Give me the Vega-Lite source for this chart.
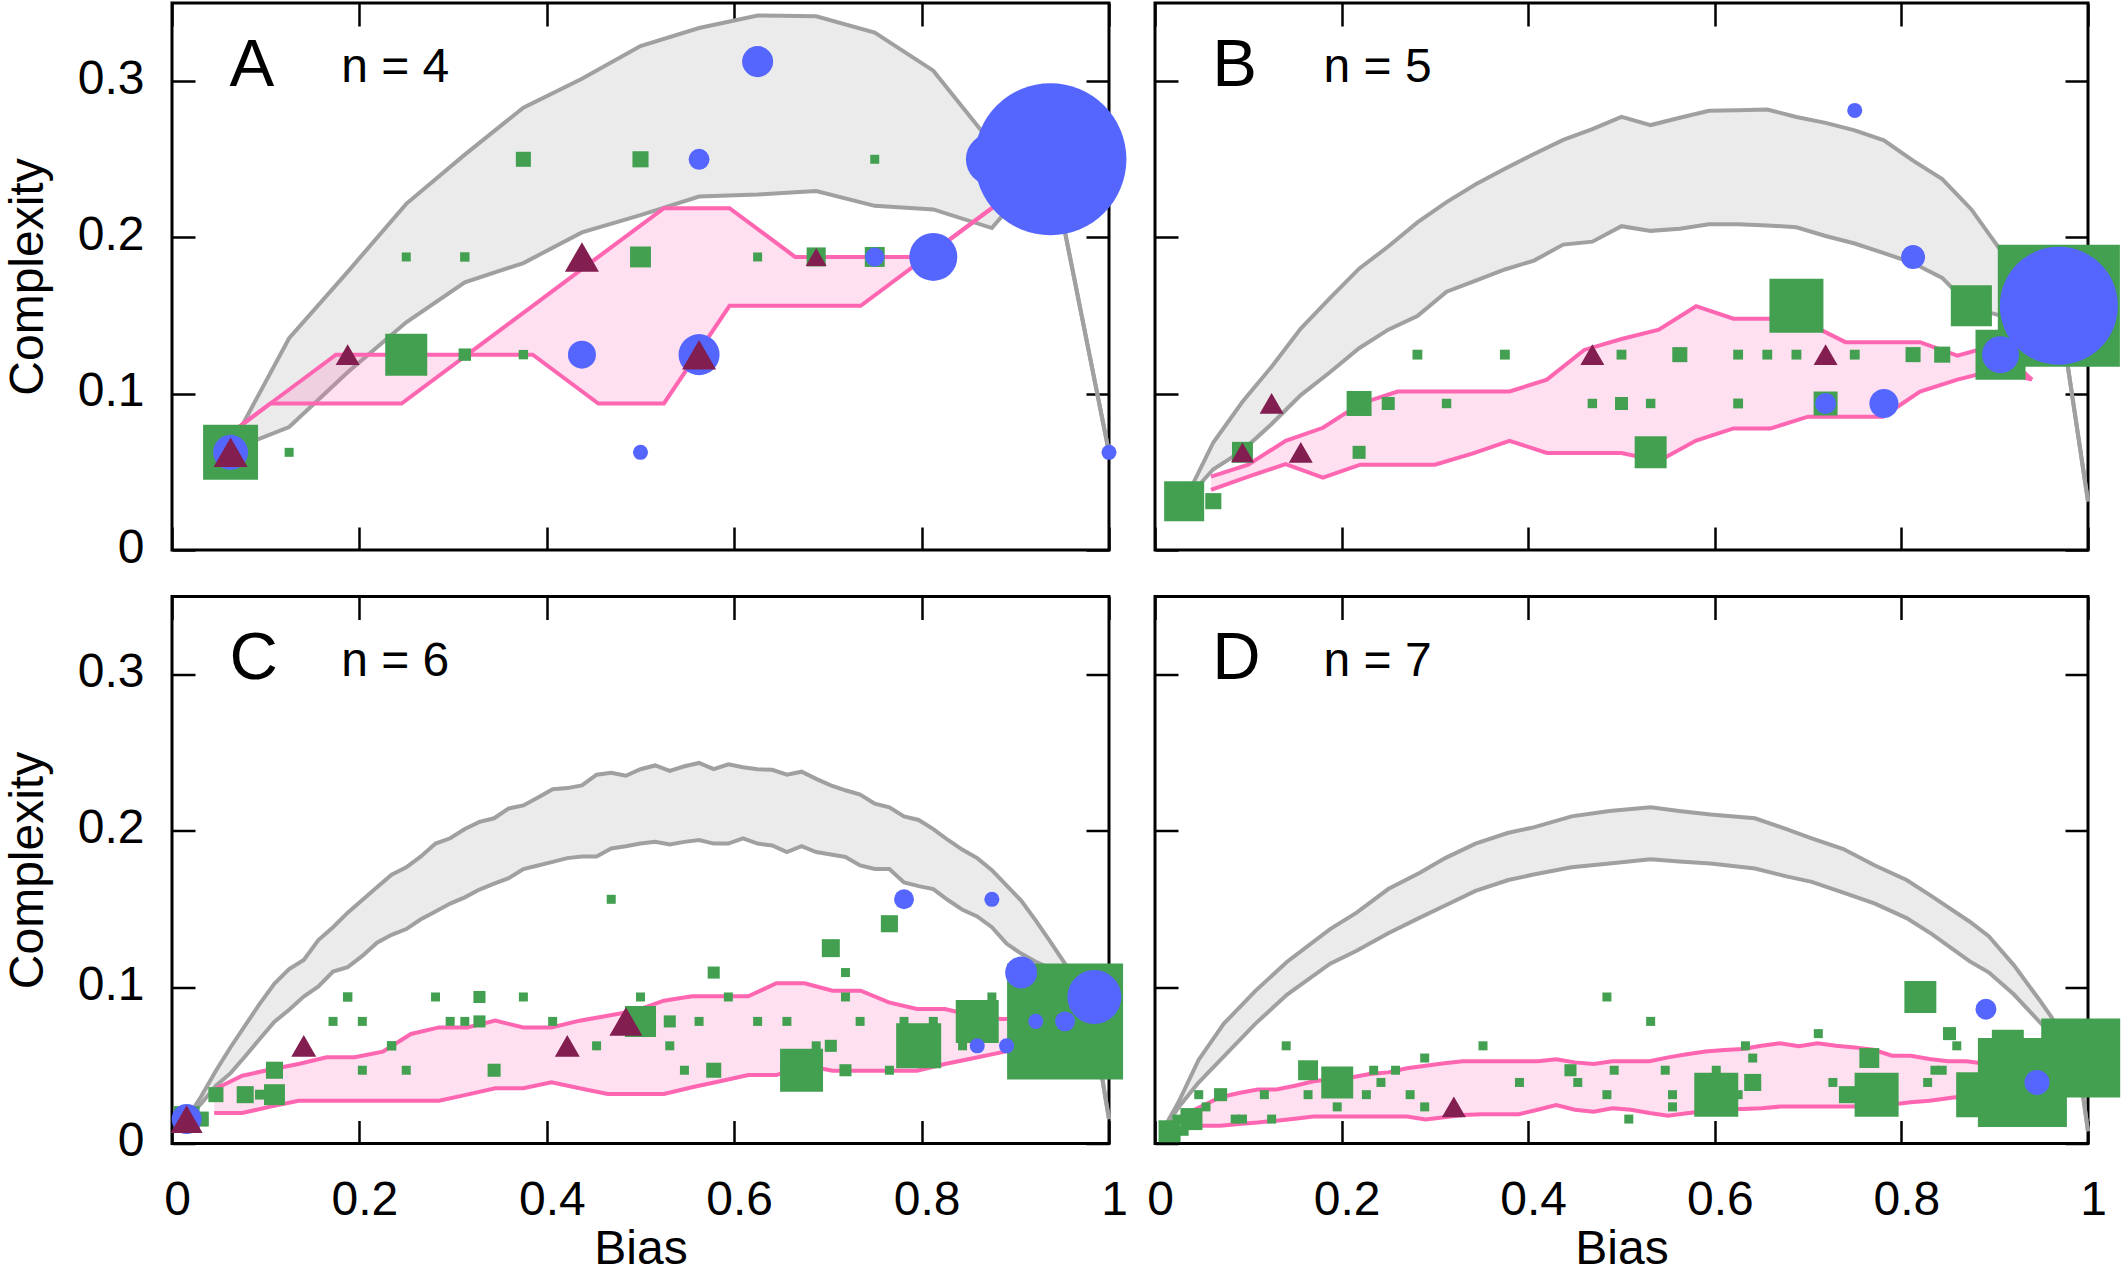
{
"$schema":"https://vega.github.io/schema/vega-lite/v6.json",
"padding":{"left":2,"top":0,"right":0,"bottom":0},
"autosize":{"type":"pad"},
"background":"white",
"bounds":"flush",
"columns":2,
"spacing":{"row":46.5,"column":46},
"config":{
 "view":{"stroke":"black","strokeWidth":3},
 "font":"Liberation Sans",
 "axis":{"domain":false,"grid":false,"tickColor":"black","tickWidth":2.5,"tickSize":-23,"labelFont":"Liberation Sans","labelFontSize":48,"labelColor":"black","titleFont":"Liberation Sans","titleFontSize":48,"titleFontWeight":"normal","titleColor":"black","labelFlush":false,"labelOverlap":false,"labelBound":false,"format":"~g"},
 "axisX":{"labelPadding":56,"titlePadding":1,"labelOffset":5},
 "axisY":{"labelPadding":51,"titlePadding":25,"labelOffset":-2}
},
"datasets":{
"lab":[{"p":"A","L":"A","n":"n = 4"},{"p":"B","L":"B","n":"n = 5"},{"p":"C","L":"C","n":"n = 6"},{"p":"D","L":"D","n":"n = 7"}],
"gray":[
{"p":"A","x":0.0625,"lo":0.064,"hi":0.066},{"p":"A","x":0.125,"lo":0.0787,"hi":0.1355},{"p":"A","x":0.1875,"lo":0.1137,"hi":0.178},{"p":"A","x":0.25,"lo":0.1457,"hi":0.2215},{"p":"A","x":0.3125,"lo":0.1713,"hi":0.253},{"p":"A","x":0.375,"lo":0.1836,"hi":0.283},{"p":"A","x":0.4375,"lo":0.2032,"hi":0.3015},{"p":"A","x":0.5,"lo":0.2143,"hi":0.3225},{"p":"A","x":0.5625,"lo":0.2262,"hi":0.334},{"p":"A","x":0.625,"lo":0.2274,"hi":0.342},{"p":"A","x":0.6875,"lo":0.2297,"hi":0.3415},{"p":"A","x":0.75,"lo":0.2202,"hi":0.331},{"p":"A","x":0.8125,"lo":0.2179,"hi":0.3067},{"p":"A","x":0.875,"lo":0.206,"hi":0.26},{"p":"A","x":0.9375,"lo":0.25,"hi":0.25},{"p":"A","x":1,"lo":0.0625,"hi":0.0625},
{"p":"B","x":0.03125,"lo":0.031,"hi":0.031},{"p":"B","x":0.0625,"lo":0.0517,"hi":0.0688},{"p":"B","x":0.09375,"lo":0.0636,"hi":0.0948},{"p":"B","x":0.125,"lo":0.0806,"hi":0.1173},{"p":"B","x":0.15625,"lo":0.0991,"hi":0.1417},{"p":"B","x":0.1875,"lo":0.1137,"hi":0.1611},{"p":"B","x":0.21875,"lo":0.1291,"hi":0.18},{"p":"B","x":0.25,"lo":0.141,"hi":0.1942},{"p":"B","x":0.28125,"lo":0.1497,"hi":0.2096},{"p":"B","x":0.3125,"lo":0.1653,"hi":0.2226},{"p":"B","x":0.34375,"lo":0.1724,"hi":0.234},{"p":"B","x":0.375,"lo":0.1795,"hi":0.2439},{"p":"B","x":0.40625,"lo":0.1852,"hi":0.2534},{"p":"B","x":0.4375,"lo":0.1954,"hi":0.2624},{"p":"B","x":0.46875,"lo":0.1973,"hi":0.2693},{"p":"B","x":0.5,"lo":0.2072,"hi":0.2771},{"p":"B","x":0.53125,"lo":0.2042,"hi":0.2719},{"p":"B","x":0.5625,"lo":0.2056,"hi":0.2766},{"p":"B","x":0.59375,"lo":0.2084,"hi":0.2811},{"p":"B","x":0.625,"lo":0.2084,"hi":0.2813},{"p":"B","x":0.65625,"lo":0.2077,"hi":0.2818},{"p":"B","x":0.6875,"lo":0.2065,"hi":0.2771},{"p":"B","x":0.71875,"lo":0.2009,"hi":0.2733},{"p":"B","x":0.75,"lo":0.1961,"hi":0.2685},{"p":"B","x":0.78125,"lo":0.19,"hi":0.2621},{"p":"B","x":0.8125,"lo":0.1836,"hi":0.2491},{"p":"B","x":0.84375,"lo":0.1741,"hi":0.2373},{"p":"B","x":0.875,"lo":0.155,"hi":0.2179},{"p":"B","x":0.90625,"lo":0.15,"hi":0.1918},{"p":"B","x":0.9375,"lo":0.15,"hi":0.175},{"p":"B","x":0.96875,"lo":0.156,"hi":0.156},{"p":"B","x":1,"lo":0.031,"hi":0.031},
{"p":"C","x":0.015625,"lo":0.0156,"hi":0.0156},{"p":"C","x":0.03125,"lo":0.0256,"hi":0.0302},{"p":"C","x":0.046875,"lo":0.037,"hi":0.0466},{"p":"C","x":0.0625,"lo":0.045,"hi":0.0616},{"p":"C","x":0.078125,"lo":0.0558,"hi":0.0756},{"p":"C","x":0.09375,"lo":0.067,"hi":0.0895},{"p":"C","x":0.109375,"lo":0.0779,"hi":0.1023},{"p":"C","x":0.125,"lo":0.0856,"hi":0.1116},{"p":"C","x":0.140625,"lo":0.094,"hi":0.1174},{"p":"C","x":0.15625,"lo":0.1005,"hi":0.1302},{"p":"C","x":0.171875,"lo":0.11,"hi":0.1384},{"p":"C","x":0.1875,"lo":0.1128,"hi":0.1477},{"p":"C","x":0.203125,"lo":0.12,"hi":0.1558},{"p":"C","x":0.21875,"lo":0.1285,"hi":0.164},{"p":"C","x":0.234375,"lo":0.1335,"hi":0.172},{"p":"C","x":0.25,"lo":0.1372,"hi":0.1767},{"p":"C","x":0.265625,"lo":0.1435,"hi":0.1837},{"p":"C","x":0.28125,"lo":0.1485,"hi":0.1919},{"p":"C","x":0.296875,"lo":0.1535,"hi":0.1953},{"p":"C","x":0.3125,"lo":0.1575,"hi":0.2012},{"p":"C","x":0.328125,"lo":0.1625,"hi":0.2058},{"p":"C","x":0.34375,"lo":0.1663,"hi":0.2081},{"p":"C","x":0.359375,"lo":0.1698,"hi":0.2144},{"p":"C","x":0.375,"lo":0.1756,"hi":0.2163},{"p":"C","x":0.390625,"lo":0.1779,"hi":0.2214},{"p":"C","x":0.40625,"lo":0.1802,"hi":0.2267},{"p":"C","x":0.421875,"lo":0.1826,"hi":0.2274},{"p":"C","x":0.4375,"lo":0.1837,"hi":0.2291},{"p":"C","x":0.453125,"lo":0.1837,"hi":0.236},{"p":"C","x":0.46875,"lo":0.1888,"hi":0.2372},{"p":"C","x":0.484375,"lo":0.1902,"hi":0.2353},{"p":"C","x":0.5,"lo":0.1919,"hi":0.2395},{"p":"C","x":0.515625,"lo":0.193,"hi":0.2419},{"p":"C","x":0.53125,"lo":0.1914,"hi":0.2384},{"p":"C","x":0.546875,"lo":0.193,"hi":0.2414},{"p":"C","x":0.5625,"lo":0.1942,"hi":0.2435},{"p":"C","x":0.578125,"lo":0.1919,"hi":0.2395},{"p":"C","x":0.59375,"lo":0.1919,"hi":0.2426},{"p":"C","x":0.609375,"lo":0.1953,"hi":0.2407},{"p":"C","x":0.625,"lo":0.1919,"hi":0.2395},{"p":"C","x":0.640625,"lo":0.1907,"hi":0.2391},{"p":"C","x":0.65625,"lo":0.1865,"hi":0.236},{"p":"C","x":0.671875,"lo":0.1902,"hi":0.2379},{"p":"C","x":0.6875,"lo":0.1865,"hi":0.2333},{"p":"C","x":0.703125,"lo":0.1849,"hi":0.2291},{"p":"C","x":0.71875,"lo":0.1833,"hi":0.226},{"p":"C","x":0.734375,"lo":0.1779,"hi":0.2233},{"p":"C","x":0.75,"lo":0.1756,"hi":0.2174},{"p":"C","x":0.765625,"lo":0.1756,"hi":0.2151},{"p":"C","x":0.78125,"lo":0.167,"hi":0.2093},{"p":"C","x":0.796875,"lo":0.1647,"hi":0.207},{"p":"C","x":0.8125,"lo":0.1628,"hi":0.2012},{"p":"C","x":0.828125,"lo":0.1558,"hi":0.1942},{"p":"C","x":0.84375,"lo":0.1495,"hi":0.1879},{"p":"C","x":0.859375,"lo":0.1453,"hi":0.1826},{"p":"C","x":0.875,"lo":0.1384,"hi":0.1749},{"p":"C","x":0.890625,"lo":0.1279,"hi":0.1651},{"p":"C","x":0.90625,"lo":0.1215,"hi":0.1554},{"p":"C","x":0.921875,"lo":0.1163,"hi":0.1426},{"p":"C","x":0.9375,"lo":0.112,"hi":0.129},{"p":"C","x":0.953125,"lo":0.104,"hi":0.115},{"p":"C","x":0.96875,"lo":0.09,"hi":0.095},{"p":"C","x":0.984375,"lo":0.072,"hi":0.072},{"p":"C","x":1,"lo":0.0156,"hi":0.0156},
{"p":"D","x":0.0078,"lo":0.0078,"hi":0.0078},{"p":"D","x":0.0264,"lo":0.024,"hi":0.0279},{"p":"D","x":0.0467,"lo":0.039,"hi":0.0535},{"p":"D","x":0.0738,"lo":0.0558,"hi":0.0767},{"p":"D","x":0.1077,"lo":0.0767,"hi":0.0977},{"p":"D","x":0.1416,"lo":0.0953,"hi":0.1163},{"p":"D","x":0.1877,"lo":0.1151,"hi":0.1372},{"p":"D","x":0.2161,"lo":0.1233,"hi":0.1477},{"p":"D","x":0.25,"lo":0.1345,"hi":0.1628},{"p":"D","x":0.2839,"lo":0.1445,"hi":0.1733},{"p":"D","x":0.311,"lo":0.1523,"hi":0.1826},{"p":"D","x":0.3435,"lo":0.1616,"hi":0.1919},{"p":"D","x":0.3787,"lo":0.1686,"hi":0.1988},{"p":"D","x":0.4058,"lo":0.1721,"hi":0.2023},{"p":"D","x":0.4465,"lo":0.1767,"hi":0.2093},{"p":"D","x":0.4871,"lo":0.1791,"hi":0.2128},{"p":"D","x":0.5312,"lo":0.1819,"hi":0.2151},{"p":"D","x":0.5617,"lo":0.1805,"hi":0.2128},{"p":"D","x":0.5955,"lo":0.1791,"hi":0.2105},{"p":"D","x":0.643,"lo":0.176,"hi":0.2081},{"p":"D","x":0.6768,"lo":0.1709,"hi":0.2012},{"p":"D","x":0.7039,"lo":0.1674,"hi":0.1953},{"p":"D","x":0.7378,"lo":0.1605,"hi":0.1884},{"p":"D","x":0.7717,"lo":0.1535,"hi":0.1779},{"p":"D","x":0.8056,"lo":0.1442,"hi":0.1686},{"p":"D","x":0.8327,"lo":0.134,"hi":0.1581},{"p":"D","x":0.8733,"lo":0.1165,"hi":0.1419},{"p":"D","x":0.8936,"lo":0.1095,"hi":0.1326},{"p":"D","x":0.9207,"lo":0.0953,"hi":0.114},{"p":"D","x":0.9478,"lo":0.078,"hi":0.092},{"p":"D","x":0.961,"lo":0.07,"hi":0.0807},{"p":"D","x":0.975,"lo":0.058,"hi":0.063},{"p":"D","x":0.992,"lo":0.042,"hi":0.042},{"p":"D","x":1,"lo":0.0078,"hi":0.0078}
],
"pink":[
{"p":"A","x":0.035,"lo":0.0625,"hi":0.0625},{"p":"A","x":0.105,"lo":0.09375,"hi":0.09375},{"p":"A","x":0.175,"lo":0.09375,"hi":0.125},{"p":"A","x":0.245,"lo":0.09375,"hi":0.125},{"p":"A","x":0.315,"lo":0.125,"hi":0.125},{"p":"A","x":0.385,"lo":0.125,"hi":0.15625},{"p":"A","x":0.455,"lo":0.09375,"hi":0.1875},{"p":"A","x":0.525,"lo":0.09375,"hi":0.21875},{"p":"A","x":0.595,"lo":0.15625,"hi":0.21875},{"p":"A","x":0.665,"lo":0.15625,"hi":0.1875},{"p":"A","x":0.735,"lo":0.15625,"hi":0.1875},{"p":"A","x":0.805,"lo":0.1875,"hi":0.1875},{"p":"A","x":0.875,"lo":0.21875,"hi":0.21875},{"p":"A","x":0.945,"lo":0.25,"hi":0.25},
{"p":"B","x":0.06,"lo":0.0385,"hi":0.047},{"p":"B","x":0.10,"lo":0.047,"hi":0.0546},{"p":"B","x":0.14,"lo":0.055,"hi":0.0699},{"p":"B","x":0.18,"lo":0.0463,"hi":0.0782},{"p":"B","x":0.22,"lo":0.0546,"hi":0.0936},{"p":"B","x":0.26,"lo":0.0546,"hi":0.1014},{"p":"B","x":0.30,"lo":0.0546,"hi":0.1014},{"p":"B","x":0.34,"lo":0.0617,"hi":0.1014},{"p":"B","x":0.38,"lo":0.0699,"hi":0.1014},{"p":"B","x":0.42,"lo":0.0621,"hi":0.109},{"p":"B","x":0.46,"lo":0.0621,"hi":0.128},{"p":"B","x":0.50,"lo":0.0621,"hi":0.135},{"p":"B","x":0.54,"lo":0.057,"hi":0.141},{"p":"B","x":0.58,"lo":0.07,"hi":0.156},{"p":"B","x":0.62,"lo":0.0778,"hi":0.148},{"p":"B","x":0.66,"lo":0.0778,"hi":0.148},{"p":"B","x":0.70,"lo":0.0853,"hi":0.145},{"p":"B","x":0.74,"lo":0.0853,"hi":0.133},{"p":"B","x":0.78,"lo":0.0853,"hi":0.133},{"p":"B","x":0.82,"lo":0.1014,"hi":0.133},{"p":"B","x":0.86,"lo":0.109,"hi":0.1244},{"p":"B","x":0.90,"lo":0.115,"hi":0.131},{"p":"B","x":0.94,"lo":0.109,"hi":0.109},
{"p":"C","x":0.045,"lo":0.0195,"hi":0.0345},{"p":"C","x":0.075,"lo":0.0195,"hi":0.0434},{"p":"C","x":0.105,"lo":0.0236,"hi":0.0473},{"p":"C","x":0.135,"lo":0.0274,"hi":0.0509},{"p":"C","x":0.165,"lo":0.0274,"hi":0.0552},{"p":"C","x":0.195,"lo":0.0274,"hi":0.0552},{"p":"C","x":0.225,"lo":0.0274,"hi":0.0588},{"p":"C","x":0.255,"lo":0.0274,"hi":0.0701},{"p":"C","x":0.285,"lo":0.0274,"hi":0.0743},{"p":"C","x":0.315,"lo":0.0313,"hi":0.0743},{"p":"C","x":0.345,"lo":0.0353,"hi":0.0786},{"p":"C","x":0.375,"lo":0.0353,"hi":0.0743},{"p":"C","x":0.405,"lo":0.0391,"hi":0.0743},{"p":"C","x":0.435,"lo":0.0353,"hi":0.0786},{"p":"C","x":0.465,"lo":0.0317,"hi":0.0818},{"p":"C","x":0.495,"lo":0.0317,"hi":0.085},{"p":"C","x":0.525,"lo":0.0317,"hi":0.0914},{"p":"C","x":0.555,"lo":0.036,"hi":0.0942},{"p":"C","x":0.585,"lo":0.0398,"hi":0.0942},{"p":"C","x":0.615,"lo":0.0438,"hi":0.0942},{"p":"C","x":0.645,"lo":0.0438,"hi":0.1025},{"p":"C","x":0.675,"lo":0.05,"hi":0.1025},{"p":"C","x":0.705,"lo":0.0466,"hi":0.0978},{"p":"C","x":0.735,"lo":0.0466,"hi":0.0978},{"p":"C","x":0.765,"lo":0.0466,"hi":0.0903},{"p":"C","x":0.795,"lo":0.0466,"hi":0.0861},{"p":"C","x":0.825,"lo":0.0509,"hi":0.0861},{"p":"C","x":0.855,"lo":0.0545,"hi":0.0818},{"p":"C","x":0.885,"lo":0.0583,"hi":0.0797},{"p":"C","x":0.915,"lo":0.062,"hi":0.08},{"p":"C","x":0.945,"lo":0.066,"hi":0.08},
{"p":"D","x":0.03,"lo":0.0119,"hi":0.018},{"p":"D","x":0.05,"lo":0.0114,"hi":0.0238},{"p":"D","x":0.07,"lo":0.0114,"hi":0.0296},{"p":"D","x":0.09,"lo":0.0125,"hi":0.0323},{"p":"D","x":0.11,"lo":0.0134,"hi":0.0345},{"p":"D","x":0.13,"lo":0.0146,"hi":0.0345},{"p":"D","x":0.15,"lo":0.0159,"hi":0.037},{"p":"D","x":0.17,"lo":0.0172,"hi":0.0398},{"p":"D","x":0.19,"lo":0.0172,"hi":0.0413},{"p":"D","x":0.21,"lo":0.0172,"hi":0.0423},{"p":"D","x":0.23,"lo":0.0172,"hi":0.0445},{"p":"D","x":0.25,"lo":0.0172,"hi":0.0455},{"p":"D","x":0.27,"lo":0.0172,"hi":0.0481},{"p":"D","x":0.29,"lo":0.0153,"hi":0.0498},{"p":"D","x":0.31,"lo":0.0168,"hi":0.0513},{"p":"D","x":0.33,"lo":0.0183,"hi":0.0526},{"p":"D","x":0.35,"lo":0.0187,"hi":0.0526},{"p":"D","x":0.37,"lo":0.0187,"hi":0.0526},{"p":"D","x":0.39,"lo":0.0187,"hi":0.0526},{"p":"D","x":0.41,"lo":0.0216,"hi":0.0526},{"p":"D","x":0.43,"lo":0.0246,"hi":0.0539},{"p":"D","x":0.45,"lo":0.0216,"hi":0.0519},{"p":"D","x":0.47,"lo":0.0204,"hi":0.0509},{"p":"D","x":0.49,"lo":0.0225,"hi":0.0526},{"p":"D","x":0.51,"lo":0.0216,"hi":0.0526},{"p":"D","x":0.53,"lo":0.0195,"hi":0.0526},{"p":"D","x":0.55,"lo":0.0178,"hi":0.0551},{"p":"D","x":0.57,"lo":0.0193,"hi":0.0571},{"p":"D","x":0.59,"lo":0.0206,"hi":0.0588},{"p":"D","x":0.61,"lo":0.0221,"hi":0.0598},{"p":"D","x":0.63,"lo":0.0221,"hi":0.0605},{"p":"D","x":0.65,"lo":0.0225,"hi":0.0626},{"p":"D","x":0.67,"lo":0.0236,"hi":0.0641},{"p":"D","x":0.69,"lo":0.0236,"hi":0.0622},{"p":"D","x":0.71,"lo":0.0236,"hi":0.0641},{"p":"D","x":0.73,"lo":0.0236,"hi":0.0626},{"p":"D","x":0.75,"lo":0.0236,"hi":0.0615},{"p":"D","x":0.77,"lo":0.0242,"hi":0.06},{"p":"D","x":0.79,"lo":0.0249,"hi":0.0562},{"p":"D","x":0.81,"lo":0.0264,"hi":0.0562},{"p":"D","x":0.83,"lo":0.0274,"hi":0.0541},{"p":"D","x":0.85,"lo":0.0289,"hi":0.0526},{"p":"D","x":0.87,"lo":0.0306,"hi":0.0526},{"p":"D","x":0.89,"lo":0.032,"hi":0.051},{"p":"D","x":0.91,"lo":0.034,"hi":0.05},{"p":"D","x":0.93,"lo":0.036,"hi":0.05}
],
"pts":[
{"p":"A","t":"sq","x":0.0625,"y":0.0625,"c":37.3},{"p":"A","t":"sq","x":0.125,"y":0.0625,"c":1},{"p":"A","t":"sq","x":0.25,"y":0.125,"c":21.8},{"p":"A","t":"sq","x":0.3125,"y":0.125,"c":1.9},{"p":"A","t":"sq","x":0.375,"y":0.125,"c":1.1},{"p":"A","t":"sq","x":0.25,"y":0.1875,"c":1},{"p":"A","t":"sq","x":0.3125,"y":0.1875,"c":1.1},{"p":"A","t":"sq","x":0.375,"y":0.25,"c":2.8},{"p":"A","t":"sq","x":0.5,"y":0.25,"c":3.2},{"p":"A","t":"sq","x":0.5,"y":0.1875,"c":5.4},{"p":"A","t":"sq","x":0.625,"y":0.1875,"c":1},{"p":"A","t":"sq","x":0.75,"y":0.25,"c":1},{"p":"A","t":"sq","x":0.6875,"y":0.1875,"c":4.5},{"p":"A","t":"sq","x":0.75,"y":0.1875,"c":4.9},
{"p":"A","t":"ci","x":0.0625,"y":0.0625,"c":15.1},{"p":"A","t":"ci","x":0.5,"y":0.0625,"c":2.8},{"p":"A","t":"ci","x":0.625,"y":0.3125,"c":11.9},{"p":"A","t":"ci","x":0.5625,"y":0.25,"c":5.4},{"p":"A","t":"ci","x":0.4375,"y":0.125,"c":9.7},{"p":"A","t":"ci","x":0.5625,"y":0.125,"c":20.8},{"p":"A","t":"ci","x":0.75,"y":0.1875,"c":4.5},{"p":"A","t":"ci","x":0.8125,"y":0.1875,"c":28.4},{"p":"A","t":"ci","x":0.875,"y":0.25,"c":33.4},{"p":"A","t":"ci","x":0.9375,"y":0.25,"c":285},{"p":"A","t":"ci","x":1,"y":0.0625,"c":2.8},
{"p":"A","t":"tr","x":0.0625,"y":0.0625,"c":14.3},{"p":"A","t":"tr","x":0.1875,"y":0.125,"c":7.1},{"p":"A","t":"tr","x":0.4375,"y":0.1875,"c":14.3},{"p":"A","t":"tr","x":0.5625,"y":0.125,"c":14.3},{"p":"A","t":"tr","x":0.6875,"y":0.1875,"c":5.4},
{"p":"B","t":"sq","x":0.03125,"y":0.03125,"c":19.8},{"p":"B","t":"sq","x":0.0625,"y":0.03125,"c":3.2},{"p":"B","t":"sq","x":0.09375,"y":0.0625,"c":5.4},{"p":"B","t":"sq","x":0.21875,"y":0.0625,"c":2.1},{"p":"B","t":"sq","x":0.21875,"y":0.09375,"c":7.7},{"p":"B","t":"sq","x":0.25,"y":0.09375,"c":2.1},{"p":"B","t":"sq","x":0.3125,"y":0.09375,"c":1.1},{"p":"B","t":"sq","x":0.28125,"y":0.125,"c":1.2},{"p":"B","t":"sq","x":0.375,"y":0.125,"c":1.2},{"p":"B","t":"sq","x":0.46875,"y":0.09375,"c":1.1},{"p":"B","t":"sq","x":0.5,"y":0.09375,"c":2.1},{"p":"B","t":"sq","x":0.53125,"y":0.09375,"c":1.1},{"p":"B","t":"sq","x":0.5,"y":0.125,"c":1.2},{"p":"B","t":"sq","x":0.53125,"y":0.0625,"c":12.6},{"p":"B","t":"sq","x":0.5625,"y":0.125,"c":2.8},{"p":"B","t":"sq","x":0.625,"y":0.125,"c":1.2},{"p":"B","t":"sq","x":0.625,"y":0.09375,"c":1.2},{"p":"B","t":"sq","x":0.65625,"y":0.125,"c":1.2},{"p":"B","t":"sq","x":0.6875,"y":0.125,"c":1.2},{"p":"B","t":"sq","x":0.6875,"y":0.15625,"c":36},{"p":"B","t":"sq","x":0.71875,"y":0.09375,"c":7.1},{"p":"B","t":"sq","x":0.75,"y":0.125,"c":1.2},{"p":"B","t":"sq","x":0.8125,"y":0.125,"c":2.8},{"p":"B","t":"sq","x":0.84375,"y":0.125,"c":3.2},{"p":"B","t":"sq","x":0.875,"y":0.15625,"c":20.8},{"p":"B","t":"sq","x":0.90625,"y":0.125,"c":30.9},{"p":"B","t":"sq","x":0.96875,"y":0.15625,"c":184},
{"p":"B","t":"ci","x":0.75,"y":0.28125,"c":2.8},{"p":"B","t":"ci","x":0.8125,"y":0.1875,"c":7.1},{"p":"B","t":"ci","x":0.71875,"y":0.09375,"c":5.4},{"p":"B","t":"ci","x":0.78125,"y":0.09375,"c":10.4},{"p":"B","t":"ci","x":0.90625,"y":0.125,"c":16.9},{"p":"B","t":"ci","x":0.96875,"y":0.15625,"c":172},
{"p":"B","t":"tr","x":0.09375,"y":0.0625,"c":6.5},{"p":"B","t":"tr","x":0.125,"y":0.09375,"c":7.1},{"p":"B","t":"tr","x":0.15625,"y":0.0625,"c":7.1},{"p":"B","t":"tr","x":0.46875,"y":0.125,"c":7.1},{"p":"B","t":"tr","x":0.71875,"y":0.125,"c":7.1},
{"p":"C","t":"sq","x":0.015625,"y":0.015625,"c":8.3},{"p":"C","t":"sq","x":0.03125,"y":0.015625,"c":2.8},{"p":"C","t":"sq","x":0.046875,"y":0.03125,"c":2.8},{"p":"C","t":"sq","x":0.078125,"y":0.03125,"c":3.6},{"p":"C","t":"sq","x":0.09375,"y":0.03125,"c":1.2},{"p":"C","t":"sq","x":0.109375,"y":0.03125,"c":5.4},{"p":"C","t":"sq","x":0.109375,"y":0.046875,"c":3.6},{"p":"C","t":"sq","x":0.171875,"y":0.078125,"c":1},{"p":"C","t":"sq","x":0.1875,"y":0.09375,"c":1.1},{"p":"C","t":"sq","x":0.203125,"y":0.078125,"c":1},{"p":"C","t":"sq","x":0.203125,"y":0.046875,"c":1},{"p":"C","t":"sq","x":0.234375,"y":0.0625,"c":1.1},{"p":"C","t":"sq","x":0.25,"y":0.046875,"c":1},{"p":"C","t":"sq","x":0.28125,"y":0.09375,"c":1},{"p":"C","t":"sq","x":0.296875,"y":0.078125,"c":1},{"p":"C","t":"sq","x":0.3125,"y":0.078125,"c":1},{"p":"C","t":"sq","x":0.328125,"y":0.078125,"c":1.8},{"p":"C","t":"sq","x":0.328125,"y":0.09375,"c":1.8},{"p":"C","t":"sq","x":0.34375,"y":0.046875,"c":2.1},{"p":"C","t":"sq","x":0.375,"y":0.09375,"c":1},{"p":"C","t":"sq","x":0.40625,"y":0.078125,"c":1},{"p":"C","t":"sq","x":0.453125,"y":0.0625,"c":1},{"p":"C","t":"sq","x":0.46875,"y":0.15625,"c":1},{"p":"C","t":"sq","x":0.5,"y":0.09375,"c":1},{"p":"C","t":"sq","x":0.5,"y":0.078125,"c":11.9},{"p":"C","t":"sq","x":0.53125,"y":0.078125,"c":1.8},{"p":"C","t":"sq","x":0.53125,"y":0.0625,"c":1},{"p":"C","t":"sq","x":0.546875,"y":0.046875,"c":1},{"p":"C","t":"sq","x":0.5625,"y":0.078125,"c":1},{"p":"C","t":"sq","x":0.578125,"y":0.109375,"c":1.8},{"p":"C","t":"sq","x":0.578125,"y":0.046875,"c":2.8},{"p":"C","t":"sq","x":0.59375,"y":0.09375,"c":1},{"p":"C","t":"sq","x":0.625,"y":0.078125,"c":1},{"p":"C","t":"sq","x":0.65625,"y":0.078125,"c":1},{"p":"C","t":"sq","x":0.671875,"y":0.046875,"c":22.8},{"p":"C","t":"sq","x":0.6875,"y":0.0625,"c":1},{"p":"C","t":"sq","x":0.703125,"y":0.0625,"c":1.8},{"p":"C","t":"sq","x":0.703125,"y":0.125,"c":4},{"p":"C","t":"sq","x":0.71875,"y":0.109375,"c":1},{"p":"C","t":"sq","x":0.71875,"y":0.09375,"c":1},{"p":"C","t":"sq","x":0.71875,"y":0.046875,"c":1.8},{"p":"C","t":"sq","x":0.734375,"y":0.078125,"c":1},{"p":"C","t":"sq","x":0.765625,"y":0.140625,"c":3.6},{"p":"C","t":"sq","x":0.765625,"y":0.046875,"c":1},{"p":"C","t":"sq","x":0.78125,"y":0.078125,"c":1},{"p":"C","t":"sq","x":0.796875,"y":0.0625,"c":25},{"p":"C","t":"sq","x":0.8125,"y":0.078125,"c":1},{"p":"C","t":"sq","x":0.84375,"y":0.0625,"c":1},{"p":"C","t":"sq","x":0.859375,"y":0.078125,"c":22.8},{"p":"C","t":"sq","x":0.875,"y":0.09375,"c":1},{"p":"C","t":"sq","x":0.953125,"y":0.078125,"c":166},
{"p":"C","t":"ci","x":0.015625,"y":0.015625,"c":11.1},{"p":"C","t":"ci","x":0.78125,"y":0.15625,"c":4.9},{"p":"C","t":"ci","x":0.859375,"y":0.0625,"c":2.8},{"p":"C","t":"ci","x":0.875,"y":0.15625,"c":2.8},{"p":"C","t":"ci","x":0.890625,"y":0.0625,"c":2.8},{"p":"C","t":"ci","x":0.90625,"y":0.109375,"c":12.6},{"p":"C","t":"ci","x":0.921875,"y":0.078125,"c":2.8},{"p":"C","t":"ci","x":0.953125,"y":0.078125,"c":4.9},{"p":"C","t":"ci","x":0.984375,"y":0.09375,"c":36},
{"p":"C","t":"tr","x":0.015625,"y":0.015625,"c":12.6},{"p":"C","t":"tr","x":0.140625,"y":0.0625,"c":7.7},{"p":"C","t":"tr","x":0.421875,"y":0.0625,"c":7.7},{"p":"C","t":"tr","x":0.484375,"y":0.078125,"c":13.4},
{"p":"D","t":"sq","x":0.015625,"y":0.0078125,"c":6},{"p":"D","t":"sq","x":0.0390625,"y":0.015625,"c":6},{"p":"D","t":"sq","x":0.03125,"y":0.0078125,"c":1},{"p":"D","t":"sq","x":0.0234375,"y":0.015625,"c":1},{"p":"D","t":"sq","x":0.046875,"y":0.03125,"c":1},{"p":"D","t":"sq","x":0.0546875,"y":0.0234375,"c":1},{"p":"D","t":"sq","x":0.0703125,"y":0.03125,"c":2.1},{"p":"D","t":"sq","x":0.0859375,"y":0.015625,"c":1},{"p":"D","t":"sq","x":0.09375,"y":0.015625,"c":1},{"p":"D","t":"sq","x":0.1171875,"y":0.03125,"c":1},{"p":"D","t":"sq","x":0.125,"y":0.015625,"c":1},{"p":"D","t":"sq","x":0.140625,"y":0.0625,"c":1},{"p":"D","t":"sq","x":0.1640625,"y":0.046875,"c":4.9},{"p":"D","t":"sq","x":0.1640625,"y":0.03125,"c":1},{"p":"D","t":"sq","x":0.1953125,"y":0.0390625,"c":12.6},{"p":"D","t":"sq","x":0.1953125,"y":0.0234375,"c":1},{"p":"D","t":"sq","x":0.2265625,"y":0.03125,"c":1},{"p":"D","t":"sq","x":0.234375,"y":0.046875,"c":1},{"p":"D","t":"sq","x":0.2421875,"y":0.0390625,"c":1},{"p":"D","t":"sq","x":0.2578125,"y":0.046875,"c":1},{"p":"D","t":"sq","x":0.2734375,"y":0.03125,"c":1},{"p":"D","t":"sq","x":0.2890625,"y":0.0546875,"c":1},{"p":"D","t":"sq","x":0.2890625,"y":0.0234375,"c":1},{"p":"D","t":"sq","x":0.3515625,"y":0.0625,"c":1},{"p":"D","t":"sq","x":0.390625,"y":0.0390625,"c":1},{"p":"D","t":"sq","x":0.4453125,"y":0.046875,"c":1.8},{"p":"D","t":"sq","x":0.453125,"y":0.0390625,"c":1},{"p":"D","t":"sq","x":0.484375,"y":0.09375,"c":1},{"p":"D","t":"sq","x":0.484375,"y":0.03125,"c":1},{"p":"D","t":"sq","x":0.4921875,"y":0.046875,"c":1},{"p":"D","t":"sq","x":0.5078125,"y":0.015625,"c":1},{"p":"D","t":"sq","x":0.53125,"y":0.078125,"c":1},{"p":"D","t":"sq","x":0.546875,"y":0.046875,"c":1},{"p":"D","t":"sq","x":0.5546875,"y":0.03125,"c":1},{"p":"D","t":"sq","x":0.5546875,"y":0.0234375,"c":1},{"p":"D","t":"sq","x":0.6015625,"y":0.046875,"c":1},{"p":"D","t":"sq","x":0.6015625,"y":0.03125,"c":23.9},{"p":"D","t":"sq","x":0.625,"y":0.03125,"c":1},{"p":"D","t":"sq","x":0.6328125,"y":0.0625,"c":1},{"p":"D","t":"sq","x":0.640625,"y":0.0546875,"c":1},{"p":"D","t":"sq","x":0.640625,"y":0.0390625,"c":3.6},{"p":"D","t":"sq","x":0.7109375,"y":0.0703125,"c":1},{"p":"D","t":"sq","x":0.7265625,"y":0.0390625,"c":1},{"p":"D","t":"sq","x":0.7421875,"y":0.03125,"c":3.6},{"p":"D","t":"sq","x":0.765625,"y":0.0546875,"c":4.9},{"p":"D","t":"sq","x":0.7734375,"y":0.03125,"c":23.9},{"p":"D","t":"sq","x":0.8203125,"y":0.09375,"c":12.6},{"p":"D","t":"sq","x":0.828125,"y":0.0390625,"c":1},{"p":"D","t":"sq","x":0.8359375,"y":0.046875,"c":1},{"p":"D","t":"sq","x":0.84375,"y":0.046875,"c":1},{"p":"D","t":"sq","x":0.8515625,"y":0.0703125,"c":2.1},{"p":"D","t":"sq","x":0.859375,"y":0.0625,"c":1},{"p":"D","t":"sq","x":0.8828125,"y":0.03125,"c":25},{"p":"D","t":"sq","x":0.9140625,"y":0.0625,"c":12.6},{"p":"D","t":"sq","x":0.9296875,"y":0.0390625,"c":97.8},{"p":"D","t":"sq","x":0.9921875,"y":0.0546875,"c":77},
{"p":"D","t":"ci","x":0.890625,"y":0.0859375,"c":5.4},{"p":"D","t":"ci","x":0.9453125,"y":0.0390625,"c":7.7},
{"p":"D","t":"tr","x":0.3203125,"y":0.0234375,"c":7.1}
]
},
"concat":[
{"width":937,"height":547,"resolve":{"axis":{"x":"independent","y":"independent"}},"layer":[
 {"data":{"name":"gray"},"transform":[{"filter":"datum.p == 'A'"}],"mark":{"type":"area","color":"#ebebeb","opacity":1},"encoding":{"x":{"field":"x","type":"quantitative","scale":{"domain":[0,1],"nice":false,"zero":false},"axis":{"orient":"bottom","values":[0,0.2,0.4,0.6,0.8,1],"labels":false,"title":null}},"y":{"field":"lo","type":"quantitative","scale":{"domain":[0,0.35],"nice":false,"zero":false},"axis":{"orient":"left","values":[0,0.1,0.2,0.3],"title":"Complexity"}},"y2":{"field":"hi"}}},
 {"data":{"name":"gray"},"transform":[{"filter":"datum.p == 'A'"}],"mark":{"type":"line","color":"#a0a0a0","strokeWidth":4},"encoding":{"x":{"field":"x","type":"quantitative","axis":null},"y":{"field":"hi","type":"quantitative","axis":null}}},
 {"data":{"name":"gray"},"transform":[{"filter":"datum.p == 'A'"}],"mark":{"type":"line","color":"#a0a0a0","strokeWidth":4},"encoding":{"x":{"field":"x","type":"quantitative","axis":null},"y":{"field":"lo","type":"quantitative","axis":null}}},
 {"data":{"name":"pink"},"transform":[{"filter":"datum.p == 'A'"}],"mark":{"type":"area","color":"#ff66b2","opacity":0.2},"encoding":{"x":{"field":"x","type":"quantitative","axis":{"orient":"top","values":[0,0.2,0.4,0.6,0.8,1],"labels":false,"title":null}},"y":{"field":"lo","type":"quantitative","axis":{"orient":"right","values":[0,0.1,0.2,0.3],"labels":false,"title":null}},"y2":{"field":"hi"}}},
 {"data":{"name":"pink"},"transform":[{"filter":"datum.p == 'A'"}],"mark":{"type":"line","color":"#ff66b2","strokeWidth":4},"encoding":{"x":{"field":"x","type":"quantitative","axis":null},"y":{"field":"hi","type":"quantitative","axis":null}}},
 {"data":{"name":"pink"},"transform":[{"filter":"datum.p == 'A'"}],"mark":{"type":"line","color":"#ff66b2","strokeWidth":4},"encoding":{"x":{"field":"x","type":"quantitative","axis":null},"y":{"field":"lo","type":"quantitative","axis":null}}},
 {"data":{"name":"pts"},"transform":[{"filter":"datum.p == 'A' && datum.t == 'sq'"}],"mark":{"type":"point","shape":"square","filled":true,"opacity":1,"color":"#43a051","strokeWidth":0},"encoding":{"x":{"field":"x","type":"quantitative","axis":null},"y":{"field":"y","type":"quantitative","axis":null},"size":{"field":"c","type":"quantitative","scale":{"type":"linear","domain":[0,300],"range":[0,24300]},"legend":null},"order":{"field":"c","sort":"descending"}}},
 {"data":{"name":"pts"},"transform":[{"filter":"datum.p == 'A' && datum.t == 'ci'"}],"mark":{"type":"point","shape":"circle","filled":true,"opacity":1,"color":"#5566ff","strokeWidth":0},"encoding":{"x":{"field":"x","type":"quantitative","axis":null},"y":{"field":"y","type":"quantitative","axis":null},"size":{"field":"c","type":"quantitative","scale":{"type":"linear","domain":[0,300],"range":[0,24300]},"legend":null},"order":{"field":"c","sort":"descending"}}},
 {"data":{"name":"pts"},"transform":[{"filter":"datum.p == 'A' && datum.t == 'tr'"}],"mark":{"type":"point","shape":"triangle-up","filled":true,"opacity":1,"color":"#821e50","strokeWidth":0},"encoding":{"x":{"field":"x","type":"quantitative","axis":null},"y":{"field":"y","type":"quantitative","axis":null},"size":{"field":"c","type":"quantitative","scale":{"type":"linear","domain":[0,300],"range":[0,24300]},"legend":null}}},
 {"data":{"name":"lab"},"transform":[{"filter":"datum.p == 'A'"}],"mark":{"type":"text","fontSize":67,"align":"left","baseline":"alphabetic","font":"Liberation Sans","color":"black"},"encoding":{"x":{"datum":0.0614,"type":"quantitative","axis":null},"y":{"datum":0.2972,"type":"quantitative","axis":null},"text":{"field":"L"}}},
 {"data":{"name":"lab"},"transform":[{"filter":"datum.p == 'A'"}],"mark":{"type":"text","fontSize":48,"align":"left","baseline":"alphabetic","font":"Liberation Sans","color":"black"},"encoding":{"x":{"datum":0.1806,"type":"quantitative","axis":null},"y":{"datum":0.2993,"type":"quantitative","axis":null},"text":{"field":"n"}}}
]},
{"width":933,"height":547,"resolve":{"axis":{"x":"independent","y":"independent"}},"layer":[
 {"data":{"name":"gray"},"transform":[{"filter":"datum.p == 'B'"}],"mark":{"type":"area","color":"#ebebeb","opacity":1},"encoding":{"x":{"field":"x","type":"quantitative","scale":{"domain":[0,1],"nice":false,"zero":false},"axis":{"orient":"bottom","values":[0,0.2,0.4,0.6,0.8,1],"labels":false,"title":null}},"y":{"field":"lo","type":"quantitative","scale":{"domain":[0,0.35],"nice":false,"zero":false},"axis":{"orient":"left","values":[0,0.1,0.2,0.3],"labels":false,"title":null}},"y2":{"field":"hi"}}},
 {"data":{"name":"gray"},"transform":[{"filter":"datum.p == 'B'"}],"mark":{"type":"line","color":"#a0a0a0","strokeWidth":4},"encoding":{"x":{"field":"x","type":"quantitative","axis":null},"y":{"field":"hi","type":"quantitative","axis":null}}},
 {"data":{"name":"gray"},"transform":[{"filter":"datum.p == 'B'"}],"mark":{"type":"line","color":"#a0a0a0","strokeWidth":4},"encoding":{"x":{"field":"x","type":"quantitative","axis":null},"y":{"field":"lo","type":"quantitative","axis":null}}},
 {"data":{"name":"pink"},"transform":[{"filter":"datum.p == 'B'"}],"mark":{"type":"area","color":"#ff66b2","opacity":0.2},"encoding":{"x":{"field":"x","type":"quantitative","axis":{"orient":"top","values":[0,0.2,0.4,0.6,0.8,1],"labels":false,"title":null}},"y":{"field":"lo","type":"quantitative","axis":{"orient":"right","values":[0,0.1,0.2,0.3],"labels":false,"title":null}},"y2":{"field":"hi"}}},
 {"data":{"name":"pink"},"transform":[{"filter":"datum.p == 'B'"}],"mark":{"type":"line","color":"#ff66b2","strokeWidth":4},"encoding":{"x":{"field":"x","type":"quantitative","axis":null},"y":{"field":"hi","type":"quantitative","axis":null}}},
 {"data":{"name":"pink"},"transform":[{"filter":"datum.p == 'B'"}],"mark":{"type":"line","color":"#ff66b2","strokeWidth":4},"encoding":{"x":{"field":"x","type":"quantitative","axis":null},"y":{"field":"lo","type":"quantitative","axis":null}}},
 {"data":{"name":"pts"},"transform":[{"filter":"datum.p == 'B' && datum.t == 'sq'"}],"mark":{"type":"point","shape":"square","filled":true,"opacity":1,"color":"#43a051","strokeWidth":0},"encoding":{"x":{"field":"x","type":"quantitative","axis":null},"y":{"field":"y","type":"quantitative","axis":null},"size":{"field":"c","type":"quantitative","scale":{"type":"linear","domain":[0,300],"range":[0,24300]},"legend":null},"order":{"field":"c","sort":"descending"}}},
 {"data":{"name":"pts"},"transform":[{"filter":"datum.p == 'B' && datum.t == 'ci'"}],"mark":{"type":"point","shape":"circle","filled":true,"opacity":1,"color":"#5566ff","strokeWidth":0},"encoding":{"x":{"field":"x","type":"quantitative","axis":null},"y":{"field":"y","type":"quantitative","axis":null},"size":{"field":"c","type":"quantitative","scale":{"type":"linear","domain":[0,300],"range":[0,24300]},"legend":null},"order":{"field":"c","sort":"descending"}}},
 {"data":{"name":"pts"},"transform":[{"filter":"datum.p == 'B' && datum.t == 'tr'"}],"mark":{"type":"point","shape":"triangle-up","filled":true,"opacity":1,"color":"#821e50","strokeWidth":0},"encoding":{"x":{"field":"x","type":"quantitative","axis":null},"y":{"field":"y","type":"quantitative","axis":null},"size":{"field":"c","type":"quantitative","scale":{"type":"linear","domain":[0,300],"range":[0,24300]},"legend":null}}},
 {"data":{"name":"lab"},"transform":[{"filter":"datum.p == 'B'"}],"mark":{"type":"text","fontSize":67,"align":"left","baseline":"alphabetic","font":"Liberation Sans","color":"black"},"encoding":{"x":{"datum":0.0614,"type":"quantitative","axis":null},"y":{"datum":0.2972,"type":"quantitative","axis":null},"text":{"field":"L"}}},
 {"data":{"name":"lab"},"transform":[{"filter":"datum.p == 'B'"}],"mark":{"type":"text","fontSize":48,"align":"left","baseline":"alphabetic","font":"Liberation Sans","color":"black"},"encoding":{"x":{"datum":0.1806,"type":"quantitative","axis":null},"y":{"datum":0.2993,"type":"quantitative","axis":null},"text":{"field":"n"}}}
]},
{"width":937,"height":547,"resolve":{"axis":{"x":"independent","y":"independent"}},"layer":[
 {"data":{"name":"gray"},"transform":[{"filter":"datum.p == 'C'"}],"mark":{"type":"area","color":"#ebebeb","opacity":1},"encoding":{"x":{"field":"x","type":"quantitative","scale":{"domain":[0,1],"nice":false,"zero":false},"axis":{"orient":"bottom","values":[0,0.2,0.4,0.6,0.8,1],"title":"Bias"}},"y":{"field":"lo","type":"quantitative","scale":{"domain":[0,0.35],"nice":false,"zero":false},"axis":{"orient":"left","values":[0,0.1,0.2,0.3],"title":"Complexity"}},"y2":{"field":"hi"}}},
 {"data":{"name":"gray"},"transform":[{"filter":"datum.p == 'C'"}],"mark":{"type":"line","color":"#a0a0a0","strokeWidth":4},"encoding":{"x":{"field":"x","type":"quantitative","axis":null},"y":{"field":"hi","type":"quantitative","axis":null}}},
 {"data":{"name":"gray"},"transform":[{"filter":"datum.p == 'C'"}],"mark":{"type":"line","color":"#a0a0a0","strokeWidth":4},"encoding":{"x":{"field":"x","type":"quantitative","axis":null},"y":{"field":"lo","type":"quantitative","axis":null}}},
 {"data":{"name":"pink"},"transform":[{"filter":"datum.p == 'C'"}],"mark":{"type":"area","color":"#ff66b2","opacity":0.2},"encoding":{"x":{"field":"x","type":"quantitative","axis":{"orient":"top","values":[0,0.2,0.4,0.6,0.8,1],"labels":false,"title":null}},"y":{"field":"lo","type":"quantitative","axis":{"orient":"right","values":[0,0.1,0.2,0.3],"labels":false,"title":null}},"y2":{"field":"hi"}}},
 {"data":{"name":"pink"},"transform":[{"filter":"datum.p == 'C'"}],"mark":{"type":"line","color":"#ff66b2","strokeWidth":4},"encoding":{"x":{"field":"x","type":"quantitative","axis":null},"y":{"field":"hi","type":"quantitative","axis":null}}},
 {"data":{"name":"pink"},"transform":[{"filter":"datum.p == 'C'"}],"mark":{"type":"line","color":"#ff66b2","strokeWidth":4},"encoding":{"x":{"field":"x","type":"quantitative","axis":null},"y":{"field":"lo","type":"quantitative","axis":null}}},
 {"data":{"name":"pts"},"transform":[{"filter":"datum.p == 'C' && datum.t == 'sq'"}],"mark":{"type":"point","shape":"square","filled":true,"opacity":1,"color":"#43a051","strokeWidth":0},"encoding":{"x":{"field":"x","type":"quantitative","axis":null},"y":{"field":"y","type":"quantitative","axis":null},"size":{"field":"c","type":"quantitative","scale":{"type":"linear","domain":[0,300],"range":[0,24300]},"legend":null},"order":{"field":"c","sort":"descending"}}},
 {"data":{"name":"pts"},"transform":[{"filter":"datum.p == 'C' && datum.t == 'ci'"}],"mark":{"type":"point","shape":"circle","filled":true,"opacity":1,"color":"#5566ff","strokeWidth":0},"encoding":{"x":{"field":"x","type":"quantitative","axis":null},"y":{"field":"y","type":"quantitative","axis":null},"size":{"field":"c","type":"quantitative","scale":{"type":"linear","domain":[0,300],"range":[0,24300]},"legend":null},"order":{"field":"c","sort":"descending"}}},
 {"data":{"name":"pts"},"transform":[{"filter":"datum.p == 'C' && datum.t == 'tr'"}],"mark":{"type":"point","shape":"triangle-up","filled":true,"opacity":1,"color":"#821e50","strokeWidth":0},"encoding":{"x":{"field":"x","type":"quantitative","axis":null},"y":{"field":"y","type":"quantitative","axis":null},"size":{"field":"c","type":"quantitative","scale":{"type":"linear","domain":[0,300],"range":[0,24300]},"legend":null}}},
 {"data":{"name":"lab"},"transform":[{"filter":"datum.p == 'C'"}],"mark":{"type":"text","fontSize":67,"align":"left","baseline":"alphabetic","font":"Liberation Sans","color":"black"},"encoding":{"x":{"datum":0.0614,"type":"quantitative","axis":null},"y":{"datum":0.2972,"type":"quantitative","axis":null},"text":{"field":"L"}}},
 {"data":{"name":"lab"},"transform":[{"filter":"datum.p == 'C'"}],"mark":{"type":"text","fontSize":48,"align":"left","baseline":"alphabetic","font":"Liberation Sans","color":"black"},"encoding":{"x":{"datum":0.1806,"type":"quantitative","axis":null},"y":{"datum":0.2993,"type":"quantitative","axis":null},"text":{"field":"n"}}}
]},
{"width":933,"height":547,"resolve":{"axis":{"x":"independent","y":"independent"}},"layer":[
 {"data":{"name":"gray"},"transform":[{"filter":"datum.p == 'D'"}],"mark":{"type":"area","color":"#ebebeb","opacity":1},"encoding":{"x":{"field":"x","type":"quantitative","scale":{"domain":[0,1],"nice":false,"zero":false},"axis":{"orient":"bottom","values":[0,0.2,0.4,0.6,0.8,1],"title":"Bias"}},"y":{"field":"lo","type":"quantitative","scale":{"domain":[0,0.35],"nice":false,"zero":false},"axis":{"orient":"left","values":[0,0.1,0.2,0.3],"labels":false,"title":null}},"y2":{"field":"hi"}}},
 {"data":{"name":"gray"},"transform":[{"filter":"datum.p == 'D'"}],"mark":{"type":"line","color":"#a0a0a0","strokeWidth":4},"encoding":{"x":{"field":"x","type":"quantitative","axis":null},"y":{"field":"hi","type":"quantitative","axis":null}}},
 {"data":{"name":"gray"},"transform":[{"filter":"datum.p == 'D'"}],"mark":{"type":"line","color":"#a0a0a0","strokeWidth":4},"encoding":{"x":{"field":"x","type":"quantitative","axis":null},"y":{"field":"lo","type":"quantitative","axis":null}}},
 {"data":{"name":"pink"},"transform":[{"filter":"datum.p == 'D'"}],"mark":{"type":"area","color":"#ff66b2","opacity":0.2},"encoding":{"x":{"field":"x","type":"quantitative","axis":{"orient":"top","values":[0,0.2,0.4,0.6,0.8,1],"labels":false,"title":null}},"y":{"field":"lo","type":"quantitative","axis":{"orient":"right","values":[0,0.1,0.2,0.3],"labels":false,"title":null}},"y2":{"field":"hi"}}},
 {"data":{"name":"pink"},"transform":[{"filter":"datum.p == 'D'"}],"mark":{"type":"line","color":"#ff66b2","strokeWidth":4},"encoding":{"x":{"field":"x","type":"quantitative","axis":null},"y":{"field":"hi","type":"quantitative","axis":null}}},
 {"data":{"name":"pink"},"transform":[{"filter":"datum.p == 'D'"}],"mark":{"type":"line","color":"#ff66b2","strokeWidth":4},"encoding":{"x":{"field":"x","type":"quantitative","axis":null},"y":{"field":"lo","type":"quantitative","axis":null}}},
 {"data":{"name":"pts"},"transform":[{"filter":"datum.p == 'D' && datum.t == 'sq'"}],"mark":{"type":"point","shape":"square","filled":true,"opacity":1,"color":"#43a051","strokeWidth":0},"encoding":{"x":{"field":"x","type":"quantitative","axis":null},"y":{"field":"y","type":"quantitative","axis":null},"size":{"field":"c","type":"quantitative","scale":{"type":"linear","domain":[0,300],"range":[0,24300]},"legend":null},"order":{"field":"c","sort":"descending"}}},
 {"data":{"name":"pts"},"transform":[{"filter":"datum.p == 'D' && datum.t == 'ci'"}],"mark":{"type":"point","shape":"circle","filled":true,"opacity":1,"color":"#5566ff","strokeWidth":0},"encoding":{"x":{"field":"x","type":"quantitative","axis":null},"y":{"field":"y","type":"quantitative","axis":null},"size":{"field":"c","type":"quantitative","scale":{"type":"linear","domain":[0,300],"range":[0,24300]},"legend":null},"order":{"field":"c","sort":"descending"}}},
 {"data":{"name":"pts"},"transform":[{"filter":"datum.p == 'D' && datum.t == 'tr'"}],"mark":{"type":"point","shape":"triangle-up","filled":true,"opacity":1,"color":"#821e50","strokeWidth":0},"encoding":{"x":{"field":"x","type":"quantitative","axis":null},"y":{"field":"y","type":"quantitative","axis":null},"size":{"field":"c","type":"quantitative","scale":{"type":"linear","domain":[0,300],"range":[0,24300]},"legend":null}}},
 {"data":{"name":"lab"},"transform":[{"filter":"datum.p == 'D'"}],"mark":{"type":"text","fontSize":67,"align":"left","baseline":"alphabetic","font":"Liberation Sans","color":"black"},"encoding":{"x":{"datum":0.0614,"type":"quantitative","axis":null},"y":{"datum":0.2972,"type":"quantitative","axis":null},"text":{"field":"L"}}},
 {"data":{"name":"lab"},"transform":[{"filter":"datum.p == 'D'"}],"mark":{"type":"text","fontSize":48,"align":"left","baseline":"alphabetic","font":"Liberation Sans","color":"black"},"encoding":{"x":{"datum":0.1806,"type":"quantitative","axis":null},"y":{"datum":0.2993,"type":"quantitative","axis":null},"text":{"field":"n"}}}
]}
]
}
